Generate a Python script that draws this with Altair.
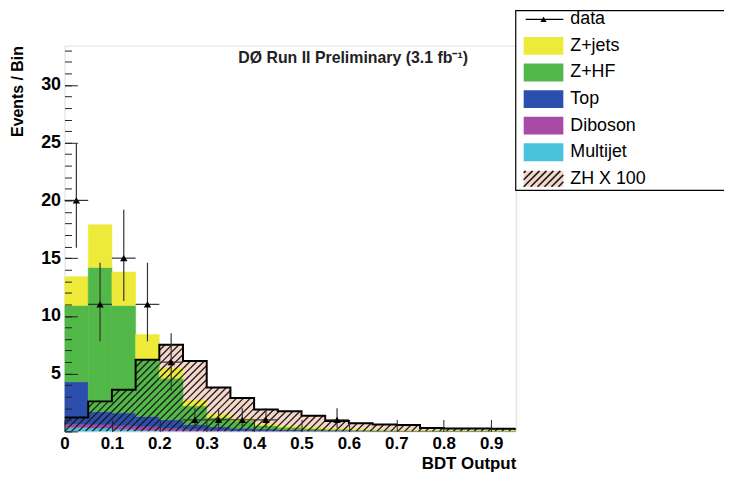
import altair as alt
import pandas as pd
import numpy as np

# ---------------- data ----------------
bin_lo = [0.00, 0.05, 0.10, 0.15, 0.20, 0.25, 0.30, 0.35, 0.40, 0.45,
          0.50, 0.55, 0.60, 0.65, 0.70, 0.75, 0.80, 0.85, 0.90, 0.95]
BIN_W = 0.05

multijet = [0.35, 0.30, 0.20, 0.10, 0.05, 0.03, 0.02, 0.01, 0.01, 0, 0, 0, 0, 0, 0, 0, 0, 0, 0, 0]
diboson = [0.30, 0.30, 0.30, 0.30, 0.25, 0.15, 0.10, 0.07, 0.05, 0.04, 0.03, 0.02, 0.02, 0.01, 0.01, 0.01, 0.01, 0.01, 0, 0]
top = [3.65, 1.10, 1.10, 0.90, 0.70, 0.42, 0.28, 0.20, 0.14, 0.10, 0.07, 0.05, 0.04, 0.03, 0.02, 0.02, 0.01, 0.01, 0.01, 0.01]
zhf = [6.60, 12.50, 9.30, 4.90, 3.60, 1.60, 0.80, 0.62, 0.30, 0.21, 0.15, 0.11, 0.06, 0.06, 0.05, 0.03, 0.03, 0.03, 0.02, 0.02]
zjets = [2.50, 3.70, 2.90, 2.20, 0.90, 0.50, 0.30, 0.20, 0.15, 0.10, 0.10, 0.07, 0.08, 0.05, 0.04, 0.05, 0.04, 0.03, 0.03, 0.02]
zh100 = [1.2, 2.6, 3.6, 6.2, 7.5, 6.1, 3.8, 2.9, 1.9, 1.75, 1.35, 0.9, 0.7, 0.6, 0.55, 0.3, 0.25, 0.25, 0.22, 0.2]

data_n = [20, 11, 15, 11, 6, 1, 1, 1, 1, 0, 0, 1, 0, 0, 0, 0, 0, 0, 0, 0]
data_lo = [15.9, 7.8, 11.3, 7.8, 3.5, 0.3, 0.3, 0.3, 0.3, 0, 0, 0.3, 0, 0, 0, 0, 0, 0, 0, 0]
data_hi = [24.9, 14.6, 19.2, 14.6, 8.5, 2.0, 2.0, 2.0, 2.0, 0, 0, 2.0, 0, 0, 0, 0, 0, 0, 0, 0]

x_ticks = [0.0, 0.1, 0.2, 0.3, 0.4, 0.5, 0.6, 0.7, 0.8, 0.9]
y_ticks = [5, 10, 15, 20, 25, 30]
y_major_ticks = [0, 5, 10, 15, 20, 25, 30]
y_minor_ticks = list(range(0, 34))

comp_names = ["Multijet", "Diboson", "Top", "Z+HF", "Z+jets"]
comp_colors = ["#48c2dc", "#a84aa8", "#2c4fae", "#52b848", "#eeea3a"]
PINK = "#f6d6cb"

legend_labels = ["data", "Z+jets", "Z+HF", "Top", "Diboson", "Multijet", "ZH X 100"]
legend_colors = [None, "#eeea3a", "#52b848", "#2c4fae", "#a84aa8", "#48c2dc", None]

# ---------------- layout ----------------
X_MAX = 0.952
Y_MAX = 33.4
W, H = 455, 389
FONT = "Liberation Sans"

xs = alt.Scale(domain=[0, X_MAX], nice=False, zero=False)
ys = alt.Scale(domain=[0, Y_MAX], nice=False, zero=False)

# stacked background table
rows = []
comps = [multijet, diboson, top, zhf, zjets]
for i, lo in enumerate(bin_lo):
    base = 0.0
    for name, vals in zip(comp_names, comps):
        v = vals[i]
        if v > 0:
            rows.append(dict(x0=lo, x1=lo + BIN_W, y0=base, y1=base + v, comp=name))
        base += v
stack_df = pd.DataFrame(rows)

sig_df = pd.DataFrame(dict(x0=bin_lo, x1=[b + BIN_W for b in bin_lo], s=zh100, z=[0.0] * len(bin_lo)))
step_df = pd.DataFrame(dict(x=bin_lo + [bin_lo[-1] + BIN_W], s=zh100 + [zh100[-1]]))

# hatch segments ("/" at 45 degrees in pixel space), clipped to each signal bin
SX = W / X_MAX
SY = H / Y_MAX
HATCH = 7.0
hrows = []
for lo, s in zip(bin_lo, zh100):
    u0 = lo * SX
    u1 = min(lo + BIN_W, X_MAX) * SX
    h = s * SY
    if u1 <= u0:
        continue
    k0 = int(np.floor((u0 - h) / HATCH)) - 1
    k1 = int(np.ceil(u1 / HATCH)) + 1
    for k in range(k0, k1 + 1):
        c = k * HATCH
        a = max(u0, c)
        b = min(u1, c + h)
        if b - a > 0.3:
            hrows.append(dict(hx0=a / SX, hx1=b / SX, hy0=(a - c) / SY, hy1=(b - c) / SY))
hatch_df = pd.DataFrame(hrows)

dat_df = pd.DataFrame(dict(xc=[b + BIN_W / 2 for b in bin_lo], xl=bin_lo,
                           xr=[b + BIN_W for b in bin_lo], n=data_n, lo=data_lo, hi=data_hi))
dat_df = dat_df[dat_df.n > 0]

# ---------------- axes ----------------
x_main_axis = alt.Axis(values=x_ticks, labelExpr="datum.value == 0 ? '0' : format(datum.value, '.1f')",
                       labelFontSize=17, labelFontWeight="bold", labelFont=FONT, labelColor="black",
                       labelPadding=4, labelFlush=False, labelOverlap=False,
                       ticks=False, tickSize=0, domain=False, grid=False,
                       title="BDT Output", titleFontSize=17, titleFontWeight="bold", titleFont=FONT,
                       titleColor="black", titleAlign="right", titleBaseline="alphabetic",
                       titleX=W, titleY=37)
y_main_axis = alt.Axis(values=y_ticks, labelFontSize=18, labelFontWeight="bold", labelFont=FONT,
                       labelColor="black", labelPadding=4, labelOverlap=False,
                       ticks=False, tickSize=0, domain=False, grid=False,
                       title="Events / Bin", titleFontSize=16, titleFontWeight="bold", titleFont=FONT,
                       titleColor="black", titleAngle=270, titleAlign="right", titleBaseline="middle",
                       titleX=-47, titleY=0)
x_tick_axis = alt.Axis(orient="top", offset=-H, values=x_ticks, labels=False, domain=False, grid=False,
                       ticks=True, tickSize=12, tickColor="#222", tickWidth=1, title=None, zindex=1)
y_tick_axis = alt.Axis(orient="right", offset=-W, values=y_major_ticks, labels=False, domain=False,
                       grid=False, ticks=True, tickSize=13, tickColor="#222", tickWidth=1, title=None, zindex=1)
y_minor_axis = alt.Axis(orient="right", offset=-W, values=y_minor_ticks, labels=False, domain=False,
                        grid=False, ticks=True, tickSize=7, tickColor="#222", tickWidth=1, title=None, zindex=1)

# ---------------- layers ----------------
pink = alt.Chart(sig_df).mark_rect(clip=True, color=PINK).encode(
    x=alt.X("x0:Q", scale=xs, axis=x_tick_axis), x2="x1:Q",
    y=alt.Y("z:Q", scale=ys, axis=y_tick_axis), y2="s:Q")

stack = alt.Chart(stack_df).mark_rect(clip=True, strokeWidth=0.5).encode(
    x=alt.X("x0:Q", scale=xs, axis=x_main_axis), x2="x1:Q",
    y=alt.Y("y0:Q", scale=ys, axis=y_main_axis), y2="y1:Q",
    color=alt.Color("comp:N", scale=alt.Scale(domain=comp_names, range=comp_colors), legend=None),
    stroke=alt.Stroke("comp:N", scale=alt.Scale(domain=comp_names, range=comp_colors), legend=None))

hatch = alt.Chart(hatch_df).mark_rule(clip=True, color="#1a1a1a", strokeWidth=1.3).encode(
    x=alt.X("hx0:Q", scale=xs, axis=None), x2="hx1:Q",
    y=alt.Y("hy0:Q", scale=ys, axis=y_minor_axis), y2="hy1:Q")

outline = alt.Chart(step_df).mark_line(clip=True, interpolate="step-after", color="black", strokeWidth=2).encode(
    x=alt.X("x:Q", scale=xs, axis=None), y=alt.Y("s:Q", scale=ys, axis=None))

err_v = alt.Chart(dat_df).mark_rule(color="#333", strokeWidth=1.2).encode(
    x=alt.X("xc:Q", scale=xs, axis=None), y=alt.Y("lo:Q", scale=ys, axis=None), y2="hi:Q")
err_h = alt.Chart(dat_df).mark_rule(color="#333", strokeWidth=1.2).encode(
    x=alt.X("xl:Q", scale=xs, axis=None), x2="xr:Q", y=alt.Y("n:Q", scale=ys, axis=None))
pts = alt.Chart(dat_df).mark_point(shape="triangle-up", filled=True, size=55, color="black", opacity=1).encode(
    x=alt.X("xc:Q", scale=xs, axis=None), y=alt.Y("n:Q", scale=ys, axis=None))

one = pd.DataFrame({"a": [0]})
label_text = alt.Chart(one).mark_text(font=FONT, fontSize=16, fontWeight="bold", color="#222",
                                      align="center", baseline="middle").encode(
    x=alt.value(291), y=alt.value(13), text=alt.value("DØ Run II Preliminary (3.1 fb⁻¹)"))

# ---------------- legend (drawn by hand, outside the plot) ----------------
LX0, LX1 = 463, 503
ROW0, ROWSTEP = -26.5, 26.8
leg = [alt.Chart(one).mark_rect(fill="white", stroke="black", strokeWidth=1.2).encode(
    x=alt.value(W), x2=alt.value(700), y=alt.value(-35.3), y2=alt.value(146))]
for i, (lab, col) in enumerate(zip(legend_labels, legend_colors)):
    cy = ROW0 + i * ROWSTEP
    if lab == "data":
        leg.append(alt.Chart(one).mark_rule(color="black", strokeWidth=1.2).encode(
            x=alt.value(LX0 + 2), x2=alt.value(LX1), y=alt.value(cy)))
        leg.append(alt.Chart(one).mark_point(shape="triangle-up", filled=True, size=40, color="black",
                                             opacity=1).encode(x=alt.value((LX0 + LX1) / 2), y=alt.value(cy)))
    elif col is not None:
        leg.append(alt.Chart(one).mark_rect(color=col).encode(
            x=alt.value(LX0), x2=alt.value(LX1), y=alt.value(cy - 9), y2=alt.value(cy + 9)))
    else:
        leg.append(alt.Chart(one).mark_rect(color=PINK).encode(
            x=alt.value(LX0), x2=alt.value(LX1), y=alt.value(cy - 8), y2=alt.value(cy + 8)))
        hh = 16.0
        for k in range(-3, 7):
            c = LX0 + k * HATCH
            a = max(LX0, c)
            b = min(LX1, c + hh)
            if b - a > 0.5:
                leg.append(alt.Chart(one).mark_rule(color="#1a1a1a", strokeWidth=1.6).encode(
                    x=alt.value(a), x2=alt.value(b),
                    y=alt.value(cy + 8 - (a - c)), y2=alt.value(cy + 8 - (b - c))))
    leg.append(alt.Chart(one).mark_text(font=FONT, fontSize=18, color="black", align="left",
                                        baseline="middle").encode(
        x=alt.value(LX1 + 7), y=alt.value(cy), text=alt.value(lab)))

chart = alt.layer(pink, stack, hatch, outline, err_v, err_h, pts, label_text, *leg).resolve_axis(
    x="independent", y="independent"
).properties(
    width=W, height=H,
    autosize=alt.AutoSizeParams(type="none"),
    padding={"left": 57, "top": 36, "right": 210, "bottom": 40},
    background="white",
).configure_view(stroke="#222", strokeWidth=1.5).configure(font=FONT)

chart.save("out.html", embed_options={"renderer": "svg", "actions": False})
